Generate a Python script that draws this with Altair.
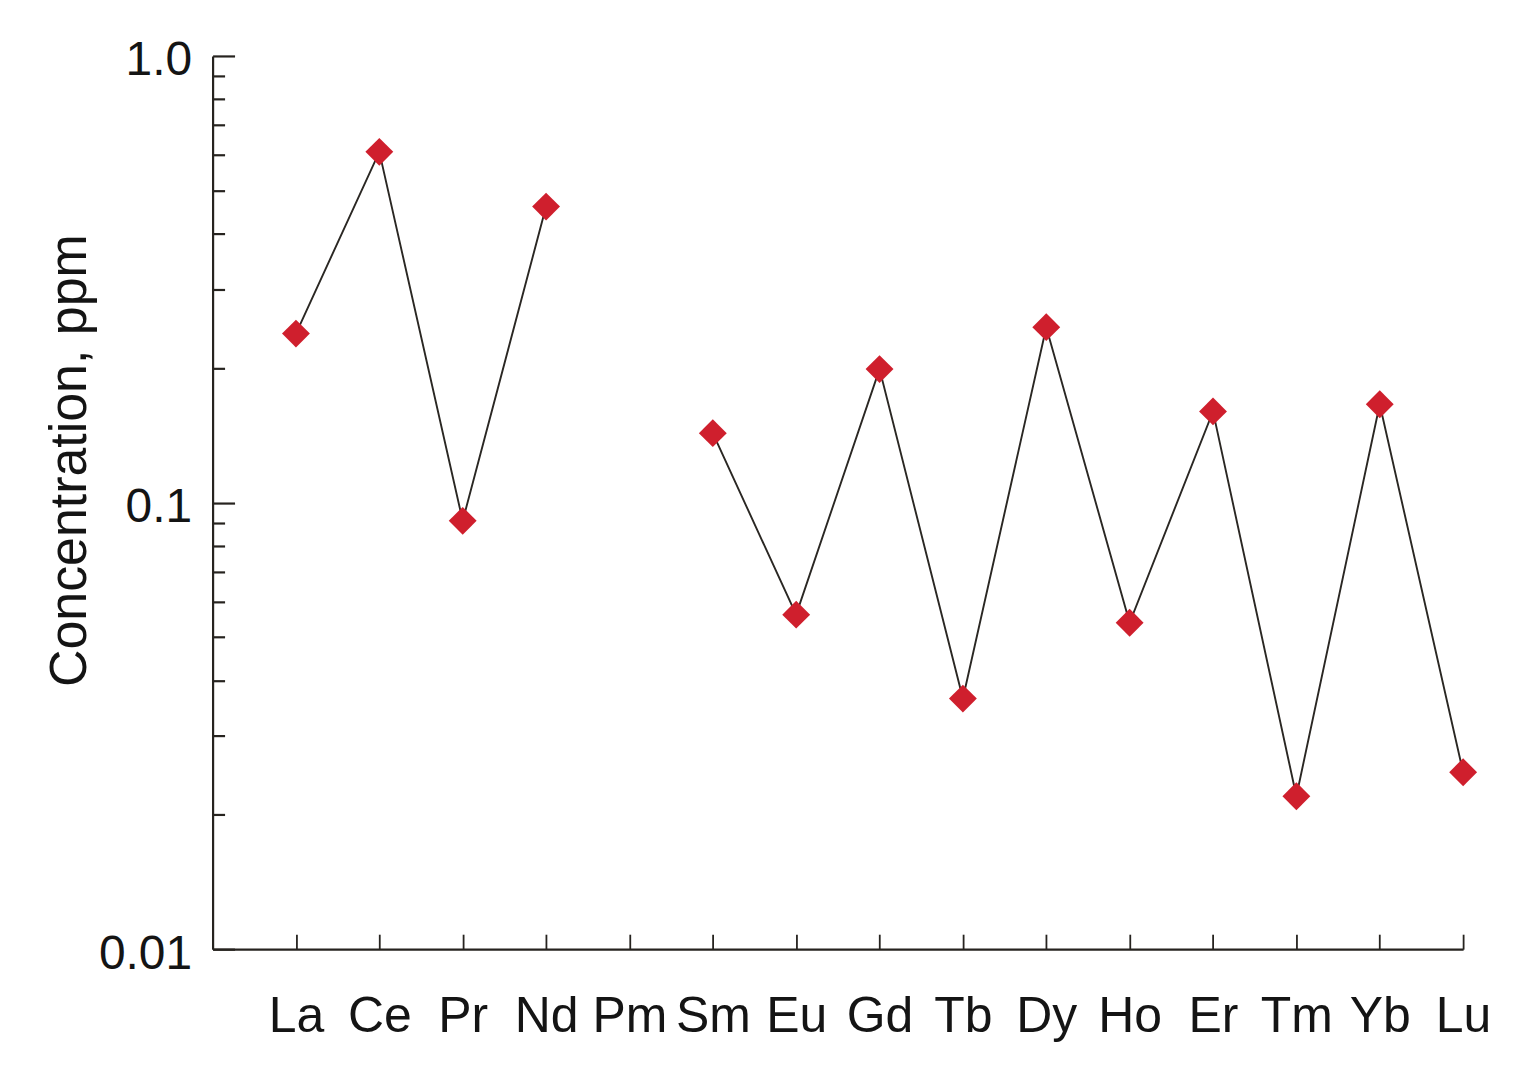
import json
import altair as alt
import pandas as pd

# ---- data ----
elements = ["La", "Ce", "Pr", "Nd", "Pm", "Sm", "Eu", "Gd", "Tb", "Dy",
            "Ho", "Er", "Tm", "Yb", "Lu"]
positions = list(range(1, 16))
concentration = [0.239, 0.610, 0.091, 0.460, None, 0.143, 0.0561, 0.199,
                 0.0364, 0.247, 0.0538, 0.160, 0.0220, 0.166, 0.0249]

y_major_ticks = [0.01, 0.1, 1.0]
y_major_labels = ["0.01", "0.1", "1.0"]
y_minor_ticks = [0.02, 0.03, 0.04, 0.05, 0.06, 0.07, 0.08, 0.09,
                 0.2, 0.3, 0.4, 0.5, 0.6, 0.7, 0.8, 0.9]

W, H = 1253, 895
FONT = "Liberation Sans"
AXIS_COLOR = "#26231f"

df = pd.DataFrame({"pos": positions, "element": elements, "value": concentration})
df["seg"] = df["value"].isna().cumsum()
pts = df.dropna(subset=["value"])

xscale = alt.Scale(domain=[0, 15], nice=False, zero=False)
yscale = alt.Scale(type="log", domain=[0.01, 1.0], nice=False)

x_label_expr = json.dumps([""] + elements) + "[datum.value]"
y_label_expr = json.dumps(y_major_labels) + "[round(log(datum.value)/LN10)+2]"

base = alt.Chart(pts)

line = base.mark_line(color="#2a2723", strokeWidth=1.9).encode(
    x=alt.X("pos:Q", scale=xscale,
            axis=alt.Axis(values=positions, labelExpr=x_label_expr, ticks=False,
                          tickSize=0, grid=False, title=None,
                          domainColor=AXIS_COLOR, domainWidth=2.2,
                          labelFont=FONT, labelFontSize=50, labelColor="#141414",
                          labelPadding=42, labelFlush=False, labelOverlap=False)),
    y=alt.Y("value:Q", scale=yscale,
            axis=alt.Axis(values=y_major_ticks, labelExpr=y_label_expr, ticks=False,
                          tickSize=0, grid=False,
                          title="Concentration, ppm",
                          titleFont=FONT, titleFontSize=52, titleFontWeight="normal",
                          titleColor="#141414", titleX=-143, titleY=405,
                          titleAlign="center", titleBaseline="middle", titleAngle=270,
                          domainColor=AXIS_COLOR, domainWidth=2.2,
                          labelFont=FONT, labelFontSize=48, labelColor="#141414",
                          labelPadding=21, labelFlush=False, labelOverlap=False,
                          labelBaseline="middle", labelOffset=5)),
    detail="seg:N",
)

points = base.mark_point(shape="diamond", filled=True, size=780,
                         color="#cf1f2d", opacity=1).encode(
    x=alt.X("pos:Q", scale=xscale, axis=None),
    y=alt.Y("value:Q", scale=yscale, axis=None),
)

# inward ticks along the bottom (x) axis
x_ticks = base.mark_point(opacity=0).encode(
    x=alt.X("pos:Q", scale=xscale,
            axis=alt.Axis(orient="top", offset=-H, values=positions, labels=False,
                          domain=False, grid=False, title=None, tickSize=15,
                          tickColor=AXIS_COLOR, tickWidth=1.8)),
    y=alt.Y("value:Q", scale=yscale, axis=None),
)

# inward ticks along the left (y) axis, major and minor
y_ticks = base.mark_point(opacity=0).encode(
    x=alt.X("pos:Q", scale=xscale, axis=None),
    y=alt.Y("value:Q", scale=yscale,
            axis=alt.Axis(orient="right", offset=-W,
                          values=y_major_ticks + y_minor_ticks, labels=False,
                          domain=False, grid=False, title=None,
                          tickSize={"condition": {
                              "test": "abs(log(datum.value)/LN10 - round(log(datum.value)/LN10)) < 1e-6",
                              "value": 22}, "value": 12},
                          tickColor=AXIS_COLOR, tickWidth=2.2)),
)

chart = alt.layer(line, points, x_ticks, y_ticks).resolve_axis(
    x="independent", y="independent"
).properties(
    width=W, height=H,
    autosize=alt.AutoSizeParams(type="none"),
    padding={"left": 205, "top": 47, "right": 55, "bottom": 110},
    background="white",
).configure_view(stroke=None)

chart.save("out.html", embed_options={"renderer": "svg", "actions": False})
